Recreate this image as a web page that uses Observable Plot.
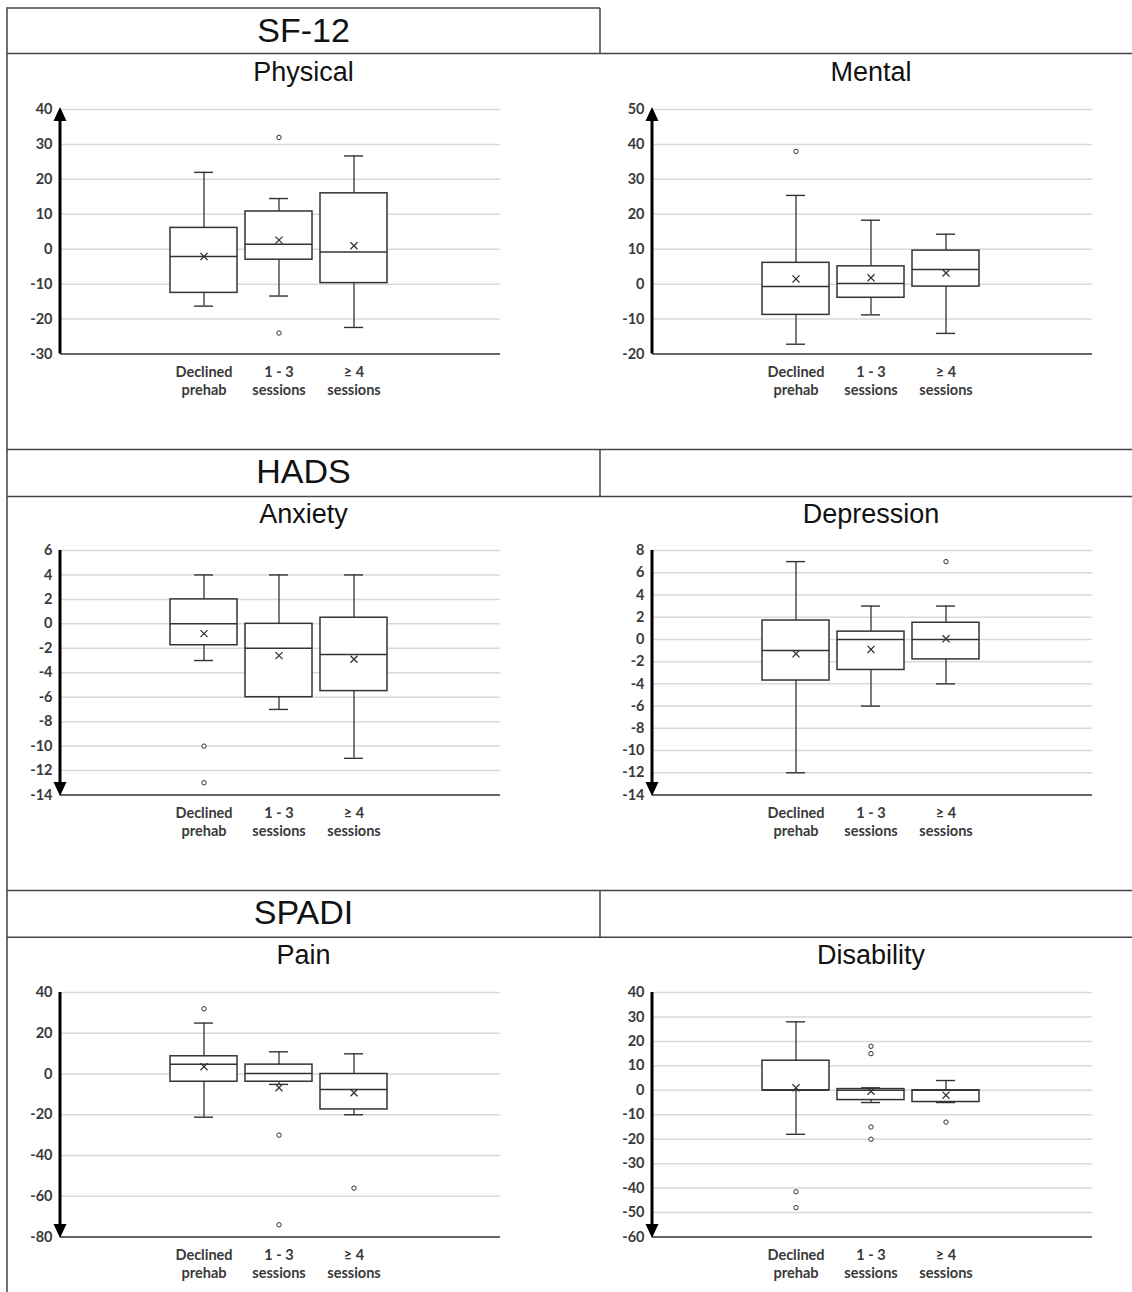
<!DOCTYPE html>
<html><head><meta charset="utf-8">
<script src="https://cdn.jsdelivr.net/npm/d3@7"></script>
<script src="https://cdn.jsdelivr.net/npm/@observablehq/plot@0.6"></script>
<style>
html,body{margin:0;padding:0;background:#fff;}
#page{position:relative;width:1132px;height:1292px;overflow:hidden;background:#fff;}
.panel{position:absolute;}
#overlay{position:absolute;left:0;top:0;}
</style></head><body><div id="page"></div>
<script>
// ---------- data ----------
const categories = ["Declined\nprehab", "1 - 3\nsessions", "≥ 4\nsessions"];
const groupTitles = ["SF-12", "HADS", "SPADI"];
const panelTitles = [["Physical", "Mental"], ["Anxiety", "Depression"], ["Pain", "Disability"]];

const physicalTicks = [-30, -20, -10, 0, 10, 20, 30, 40];
const mentalTicks = [-20, -10, 0, 10, 20, 30, 40, 50];
const anxietyTicks = [-14, -12, -10, -8, -6, -4, -2, 0, 2, 4, 6];
const depressionTicks = [-14, -12, -10, -8, -6, -4, -2, 0, 2, 4, 6, 8];
const painTicks = [-80, -60, -40, -20, 0, 20, 40];
const disabilityTicks = [-60, -50, -40, -30, -20, -10, 0, 10, 20, 30, 40];

const physical = {
  low: [-16.3, -13.4, -22.4], q1: [-12.5, -3.0, -9.7], median: [-2.1, 1.4, -0.8],
  q3: [6.1, 10.8, 16.0], high: [22, 14.5, 26.7], mean: [-2.1, 2.6, 1.0],
  outliers: [[], [32, -24], []]
};
const mental = {
  low: [-17.2, -8.8, -14.1], q1: [-8.8, -3.9, -0.7], median: [-0.7, 0.2, 4.2],
  q3: [6.1, 5.1, 9.6], high: [25.4, 18.3, 14.3], mean: [1.5, 1.8, 3.2],
  outliers: [[38], [], []]
};
const anxiety = {
  low: [-3, -7, -11], q1: [-1.75, -6, -5.5], median: [0, -2, -2.5],
  q3: [2, 0, 0.5], high: [4, 4, 4], mean: [-0.8, -2.6, -2.9],
  outliers: [[-10, -13], [], []]
};
const depression = {
  low: [-12, -6, -4], q1: [-3.7, -2.75, -1.8], median: [-1, 0, 0],
  q3: [1.7, 0.7, 1.5], high: [7, 3, 3], mean: [-1.3, -0.9, 0.05],
  outliers: [[], [], [7]]
};
const pain = {
  low: [-21.2, -5.1, -20], q1: [-3.8, -3.8, -17.4], median: [4.8, 0.2, -7.6],
  q3: [8.7, 4.6, 0], high: [25, 10.9, 9.9], mean: [3.6, -6.7, -9.2],
  outliers: [[32], [-30, -74], [-56]]
};
const disability = {
  low: [-18, -5, -5], q1: [0, -4, -4.8], median: [0, 0, 0],
  q3: [12.1, 0.5, 0], high: [28, 1, 4], mean: [1, -0.4, -2],
  outliers: [[-41.5, -48], [18, 15, -15, -20], [-13]]
};

// ---------- layout ----------
const page = document.getElementById("page");
const rowStep = 441.5;
const plotTop0 = 108.5, plotH = 244.5;
const mTop = 16, mBottom = 52;
const ink = "#333";
const labelFont = 14.5;

function axisArrow(dir) {
  return function (...args) {
    const dims = args.find(a => a && a.marginLeft !== undefined && a.height !== undefined);
    const x = dims.marginLeft;
    const yTop = dims.marginTop, yBot = dims.height - dims.marginBottom;
    const g = d3.create("svg:g");
    const tip = dir === "up" ? yTop - 2 : yBot + 1.5;
    const base = dir === "up" ? tip + 14 : tip - 14;
    g.append("line").attr("x1", x).attr("x2", x)
      .attr("y1", dir === "up" ? base : yTop).attr("y2", dir === "up" ? yBot : base)
      .attr("stroke", "black").attr("stroke-width", 3);
    g.append("path").attr("d", `M${x},${tip}L${x - 6.5},${base}L${x + 6.5},${base}Z`).attr("fill", "black");
    return g.node();
  };
}

function panel(stats, ticks, col, row, dir) {
  const rows = categories.map((c, i) => ({
    cat: c, low: stats.low[i], q1: stats.q1[i], median: stats.median[i],
    q3: stats.q3[i], high: stats.high[i], mean: stats.mean[i]
  }));
  const outs = categories.flatMap((c, i) => stats.outliers[i].map(v => ({cat: c, v})));
  const ymin = d3.min(ticks), ymax = d3.max(ticks);
  const marginLeft = col === 0 ? 60 : 61;
  const width = col === 0 ? 560 : 541;
  const marginRight = width - marginLeft - 440;
  const left = col === 0 ? 0 : 591;
  const top = plotTop0 + row * rowStep - mTop;
  const height = mTop + plotH + mBottom;
  const chart = Plot.plot({
    width, height, marginLeft, marginRight, marginTop: mTop, marginBottom: mBottom,
    style: {fontFamily: "Lato, 'Open Sans', sans-serif", fontWeight: "bold", color: "#3a3a3a", background: "transparent", overflow: "visible"},
    x: {type: "band", domain: categories, range: [marginLeft + 105.5, marginLeft + 330.5], padding: 0, label: null},
    y: {domain: [ymin, ymax], label: null},
    marks: [
      Plot.ruleY(ticks.filter(t => t > ymin), {stroke: "#d9d9d9", strokeWidth: 1.5}),
      Plot.ruleY([ymin], {stroke: "#666", strokeWidth: 2}),
      Plot.ruleX(rows, {x: "cat", y1: "low", y2: "high", stroke: ink, strokeWidth: 1.3}),
      Plot.tickY(rows, {x: "cat", y: "low", stroke: ink, strokeWidth: 1.4, insetLeft: 28, insetRight: 28}),
      Plot.tickY(rows, {x: "cat", y: "high", stroke: ink, strokeWidth: 1.4, insetLeft: 28, insetRight: 28}),
      Plot.barY(rows, {x: "cat", y1: "q1", y2: "q3", fill: "white", stroke: ink, strokeWidth: 1.5, insetLeft: 4, insetRight: 4}),
      Plot.tickY(rows, {x: "cat", y: "median", stroke: ink, strokeWidth: 1.5, insetLeft: 4, insetRight: 4}),
      Plot.dot(rows, {x: "cat", y: "mean", symbol: "times", r: 3.3, stroke: ink, strokeWidth: 1.3}),
      Plot.dot(outs, {x: "cat", y: "v", r: 2.2, stroke: ink, strokeWidth: 1, fill: "white"}),
      Plot.axisY(ticks, {tickSize: 0, tickPadding: 8, fontSize: labelFont, fontWeight: "bold", tickFormat: d => String(d), label: null}),
      Plot.axisX({tickSize: 0, tickPadding: 11, fontSize: labelFont, fontWeight: "bold", lineHeight: 1.2, label: null}),
      axisArrow(dir)
    ]
  });
  chart.classList.add("panel");
  chart.style.left = left + "px";
  chart.style.top = top + "px";
  page.appendChild(chart);
}

panel(physical, physicalTicks, 0, 0, "up");
panel(mental, mentalTicks, 1, 0, "up");
panel(anxiety, anxietyTicks, 0, 1, "down");
panel(depression, depressionTicks, 1, 1, "down");
panel(pain, painTicks, 0, 2, "down");
panel(disability, disabilityTicks, 1, 2, "down");

// ---------- table frame and titles ----------
const svg = d3.select(page).append("svg").attr("id", "overlay")
  .attr("width", 1132).attr("height", 1292)
  .style("font-family", "'Liberation Sans', Arial, sans-serif");
const lineColor = "#444";
const hTop = [8, 449.5, 890.5], hBot = [53.5, 496.5, 937.2];
svg.append("line").attr("x1", 7).attr("x2", 600).attr("y1", 8).attr("y2", 8).attr("stroke", lineColor).attr("stroke-width", 1.5);
[hBot[0], hTop[1], hBot[1], hTop[2], hBot[2]].forEach(y => {
  svg.append("line").attr("x1", 7).attr("x2", 1132).attr("y1", y).attr("y2", y).attr("stroke", lineColor).attr("stroke-width", 1.5);
});
svg.append("line").attr("x1", 7).attr("x2", 7).attr("y1", 7.25).attr("y2", 1292).attr("stroke", lineColor).attr("stroke-width", 1.5);
hTop.forEach((y, i) => {
  svg.append("line").attr("x1", 600).attr("x2", 600).attr("y1", y).attr("y2", hBot[i]).attr("stroke", lineColor).attr("stroke-width", 1.5);
});
const groupBase = [41.7, 483.3, 924.3], subBase = [80.7, 523.3, 964];
groupTitles.forEach((t, i) => {
  svg.append("text").attr("x", 303.5).attr("y", groupBase[i]).attr("text-anchor", "middle")
    .attr("font-size", 34).attr("fill", "#111").text(t);
  panelTitles[i].forEach((s, j) => {
    svg.append("text").attr("x", j === 0 ? 303.5 : 871).attr("y", subBase[i]).attr("text-anchor", "middle")
      .attr("font-size", 27).attr("fill", "#111").text(s);
  });
});
</script></body></html>
